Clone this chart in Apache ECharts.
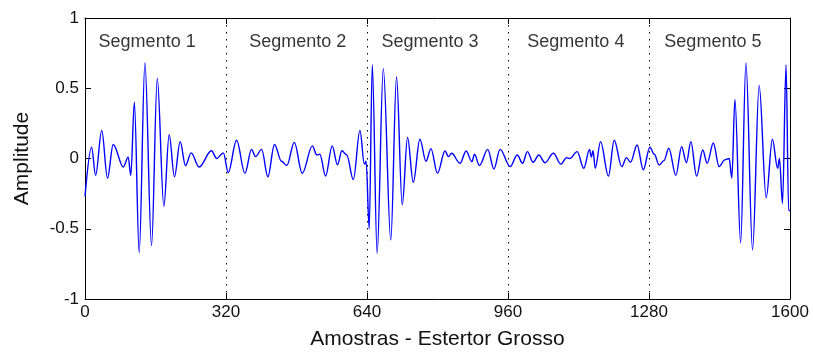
<!DOCTYPE html>
<html>
<head>
<meta charset="utf-8">
<script src="https://cdn.jsdelivr.net/npm/echarts@6/dist/echarts.min.js"></script>
<style>
  html, body { margin: 0; padding: 0; background: #fff; }
  #chart { width: 813px; height: 356px; }
</style>
</head>
<body>
<div id="chart"></div>
<script>
// Sample index of each turning point of the crackle recording
const sampleIdx = [
  0, 15, 24, 38, 51, 64, 87, 98, 104, 112, 123, 136, 151, 164, 179, 191, 203, 216, 228, 241,
  259, 287, 299, 314, 325, 344, 363, 378, 387, 401, 415, 430, 446, 458, 475, 493, 516, 526, 533, 546,
  561, 573, 583, 594, 609, 624, 634, 638, 645, 652, 663, 677, 694, 707, 720, 732, 745, 760, 774, 785,
  800, 817, 825, 832, 851, 865, 878, 884, 895, 914, 928, 942, 965, 981, 993, 1004, 1017, 1030, 1044, 1063,
  1080, 1093, 1100, 1117, 1132, 1145, 1149, 1153, 1158, 1170, 1188, 1201, 1218, 1229, 1238, 1253, 1267, 1282, 1292, 1303,
  1314, 1325, 1341, 1354, 1365, 1375, 1388, 1402, 1412, 1426, 1439, 1452, 1462, 1468, 1475, 1488, 1500, 1515, 1530, 1546,
  1560, 1572, 1576, 1583, 1591, 1597, 1600
];
// Amplitude at those samples
const amplitude = [
  -0.27, 0.08, -0.12, 0.20, -0.14, 0.10, -0.06, 0.01, -0.12, 0.40, -0.67, 0.68, -0.62, 0.57, -0.34, 0.17, -0.13, 0.12, -0.05, 0.04,
  -0.06, 0.055, 0.0, 0.04, -0.10, 0.13, -0.105, 0.065, 0.013, 0.065, -0.13, 0.10, -0.02, -0.05, 0.115, -0.105, 0.09, 0.025, 0.03, -0.125,
  0.09, -0.045, 0.055, 0.025, -0.15, 0.20, -0.04, -0.02, -0.50, 0.665, -0.675, 0.64, -0.58, 0.58, -0.33, 0.15, -0.17, 0.137, -0.02, 0.07,
  -0.105, 0.053, 0.013, 0.037, -0.034, 0.053, -0.023, 0.03, -0.05, 0.065, -0.075, 0.065, -0.058, 0.025, -0.034, 0.049, -0.027, 0.025, -0.03, 0.037,
  -0.04, 0.006, 0.0, 0.049, -0.07, 0.065, 0.01, 0.055, -0.07, 0.12, -0.125, 0.13, -0.058, 0.006, -0.027, 0.096, -0.08, 0.08, 0.03, -0.046,
  -0.015, 0.073, -0.12, 0.084, -0.03, 0.12, -0.125, 0.06, -0.034, 0.11, -0.058, -0.01, 0.0, -0.14, 0.42, -0.60, 0.68, -0.65, 0.52, -0.28,
  0.137, -0.07, 0.0, -0.32, 0.665, -0.37, -0.37
];

// Axis ticks
const xTicks = [0, 320, 640, 960, 1280, 1600];
const yTicks = [-1, -0.5, 0, 0.5, 1];

// Segment captions and where each one sits along the sample axis
const segmentNames = ['Segmento 1', 'Segmento 2', 'Segmento 3', 'Segmento 4', 'Segmento 5'];
const segmentLabelX = [141, 483, 783, 1114, 1425];
const segmentLabelY = 0.83;

const signal = sampleIdx.map((s, i) => [s, amplitude[i]]);
const captions = segmentNames.map((n, i) => ({ value: [segmentLabelX[i], segmentLabelY], name: n }));

const font = 'Liberation Sans, Arial, sans-serif';
const xStep = xTicks[1] - xTicks[0];
const yStep = yTicks[1] - yTicks[0];
const plain = v => String(v);

const chart = echarts.init(document.getElementById('chart'), null, { renderer: 'canvas' });
chart.setOption({
  animation: false,
  backgroundColor: '#ffffff',
  grid: { left: 85, right: 23, top: 18, bottom: 57, containLabel: false },
  xAxis: [
    {
      type: 'value',
      min: xTicks[0], max: xTicks[xTicks.length - 1], interval: xStep,
      name: 'Amostras - Estertor Grosso',
      nameLocation: 'middle', nameGap: 30,
      nameTextStyle: { fontFamily: font, fontSize: 21, color: '#111' },
      axisLine: { show: true, onZero: false, lineStyle: { color: '#000', width: 1 } },
      axisTick: { show: true, inside: true, length: 6, lineStyle: { color: '#000' } },
      axisLabel: { margin: 5, fontFamily: font, fontSize: 17, color: '#111', formatter: plain },
      splitLine: { show: true, showMinLine: false, showMaxLine: false, lineStyle: { color: '#000', width: 1, type: [1.5, 5.5] } }
    },
    {
      type: 'value', position: 'top',
      min: xTicks[0], max: xTicks[xTicks.length - 1], interval: xStep,
      axisLine: { show: true, onZero: false, lineStyle: { color: '#000', width: 1 } },
      axisTick: { show: true, inside: true, length: 6, lineStyle: { color: '#000' } },
      axisLabel: { show: false },
      splitLine: { show: false }
    }
  ],
  yAxis: [
    {
      type: 'value',
      min: yTicks[0], max: yTicks[yTicks.length - 1], interval: yStep,
      name: 'Amplitude',
      nameLocation: 'middle', nameGap: 52,
      nameTextStyle: { fontFamily: font, fontSize: 21, color: '#111' },
      axisLine: { show: true, onZero: false, lineStyle: { color: '#000', width: 1 } },
      axisTick: { show: true, inside: true, length: 6, lineStyle: { color: '#000' } },
      axisLabel: { margin: 6, fontFamily: font, fontSize: 17, color: '#111', formatter: plain },
      splitLine: { show: false }
    },
    {
      type: 'value', position: 'right',
      min: yTicks[0], max: yTicks[yTicks.length - 1], interval: yStep,
      axisLine: { show: true, onZero: false, lineStyle: { color: '#000', width: 1 } },
      axisTick: { show: true, inside: true, length: 6, lineStyle: { color: '#000' } },
      axisLabel: { show: false },
      splitLine: { show: false }
    }
  ],
  series: [
    {
      type: 'line',
      data: signal,
      showSymbol: false,
      smooth: 0.35,
      smoothMonotone: 'x',
      lineStyle: { color: '#0000ff', width: 1.4 },
      silent: true,
      z: 3
    },
    {
      type: 'scatter',
      data: captions,
      symbolSize: 0,
      silent: true,
      label: {
        show: true, position: 'inside',
        formatter: p => p.name,
        fontFamily: font, fontSize: 18, color: '#000'
      },
      z: 4
    }
  ]
});
</script>
</body>
</html>
